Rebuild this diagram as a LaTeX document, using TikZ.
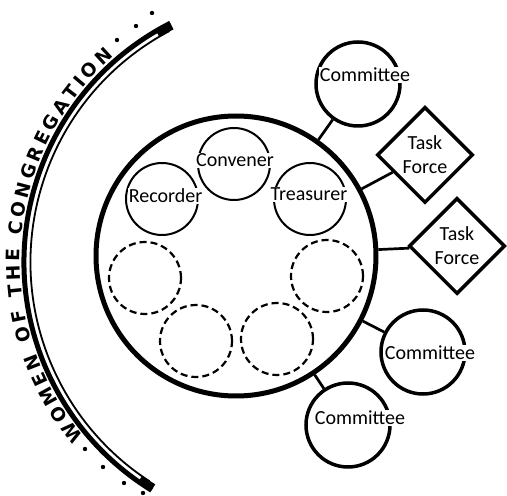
\documentclass[tikz,border=0pt]{standalone}
\usepackage{fontspec}
\setmainfont{Carlito}
\newfontfamily\arcfont{DejaVu Sans}
\usetikzlibrary{positioning}
\usetikzlibrary{shapes.geometric}
\usetikzlibrary{decorations.text}

\begin{document}
\begin{tikzpicture}[
    x=1pt,y=1pt,
    council/.style={circle,draw,line width=5pt,minimum size=280pt,inner sep=0pt},
    officer/.style={circle,draw,line width=2pt,minimum size=72pt,inner sep=0pt},
    openseat/.style={circle,draw,line width=2.2pt,dash pattern=on 7pt off 4pt,minimum size=72pt,inner sep=0pt},
    comm/.style={circle,draw,line width=3.5pt,minimum size=84pt,inner sep=0pt},
    force/.style={diamond,draw,line width=3.5pt,minimum width=96pt,minimum height=96pt,inner sep=0pt,align=center,font=\fontsize{20}{24}\selectfont},
    lbl/.style={fill=white,inner sep=1pt,anchor=base,font=\fontsize{20}{24}\selectfont},
    link/.style={line width=2.7pt},
]
\useasboundingbox (0,0) rectangle (507,496);

% =====================================================
% Outer arc : women of the congregation
% =====================================================

\coordinate (hub) at (292,234);

\draw[line width=5pt] (hub) ++(117:268) arc[start angle=117,end angle=238.4,radius=268];
\draw[line width=1.8pt] (hub) ++(118:261.5) arc[start angle=118,end angle=237,radius=261.5];
\draw[line width=8pt] (hub) ++(117:265) arc[start angle=117,end angle=120.5,radius=265];
\draw[line width=8pt] (hub) ++(235:265) arc[start angle=235,end angle=238.4,radius=265];

\path[decorate,decoration={text along path,
    text={|\arcfont\bfseries\fontsize{18.5}{19}\selectfont|WOMEN OF THE CONGREGATION},
    text align={fit to path}}]
    (hub) ++(220:272) arc[start angle=220,end angle=131,radius=272];

\foreach \p in {(85,47),(103,29),(124,13),(143,3),(117,456),(136,470),(152,483)}
    \fill \p circle (2.2);

% =====================================================
% Council and its seats
% =====================================================

\node[council] (council) at (236,240) {};

\node[officer] (convener) at (234,332) {};
\node[officer] (recorder) at (162,297) {};
\node[officer] (treasurer) at (310,297) {};

\node[openseat] (seatA) at (145,218) {};
\node[openseat] (seatB) at (327,220) {};
\node[openseat] (seatC) at (196,155) {};
\node[openseat] (seatD) at (277,157) {};

\node[lbl] (convenerlbl) at (235,329) {Convener};
\node[lbl] (recorderlbl) at (165.5,293) {Recorder};
\node[lbl] (treasurerlbl) at (309,295) {Treasurer};

% =====================================================
% Committees and task forces
% =====================================================

\node[comm] (commA) at (358,412) {};
\node[comm] (commB) at (423,144) {};
\node[comm] (commC) at (348,71) {};

\node[force] (forceA) at (425,341) {Task\\Force};
\node[force] (forceB) at (457,250) {Task\\Force};

\node[lbl] (commAlbl) at (365,414) {Committee};
\node[lbl] (commBlbl) at (430,136) {Committee};
\node[lbl] (commClbl) at (360,71) {Committee};

\draw[link] (council) -- (commA);
\draw[link] (council) -- (forceA);
\draw[link] (council) -- (forceB);
\draw[link] (council) -- (commB);
\draw[link] (council) -- (commC);

\end{tikzpicture}
\end{document}
